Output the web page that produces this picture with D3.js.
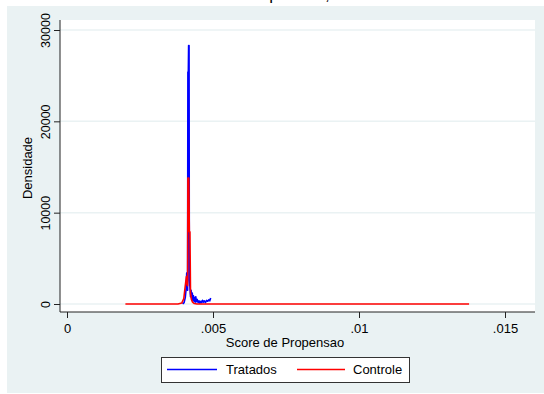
<!DOCTYPE html>
<html>
<head>
<meta charset="utf-8">
<script src="https://cdn.jsdelivr.net/npm/d3@7"></script>
<style>
  html, body { margin: 0; padding: 0; background: #ffffff; }
  svg { display: block; font-family: "Liberation Sans", Arial, sans-serif; }
</style>
</head>
<body>
<svg id="chart" width="544" height="394"></svg>
<script>
// Kernel density of the propensity score, treated group
const tratadosScore = [0.00396, 0.00401, 0.00405, 0.00408, 0.00410, 0.00412, 0.00413, 0.00414, 0.004155, 0.004165, 0.00418, 0.00419,
  0.00421, 0.00423, 0.00425, 0.00427, 0.00429, 0.00431, 0.00433, 0.00435, 0.00437, 0.00439, 0.00441, 0.00443,
  0.00446, 0.00449, 0.00452, 0.00455, 0.00458, 0.00461, 0.00464, 0.00467, 0.00470, 0.00474, 0.00478, 0.00482,
  0.00486, 0.00489, 0.00492];
const tratadosDens = [0, 150, 700, 1700, 3400, 1800, 1500, 25400, 25400, 28300, 28300, 2600,
  1900, 800, 1500, 600, 1200, 400, 900, 300, 700, 200, 800, 250,
  500, 150, 350, 100, 300, 150, 400, 200, 350, 150, 400, 300,
  450, 350, 650];

// Kernel density of the propensity score, control group
const controleScore = [0.00200, 0.00380, 0.00393, 0.00400, 0.00405, 0.00409, 0.00411, 0.00413, 0.00414, 0.00417, 0.00419,
  0.00421, 0.00423, 0.00426, 0.00430, 0.00436, 0.00445, 0.01377];
const controleDens = [0, 0, 100, 600, 2000, 3000, 2200, 2000, 13800, 13800, 7900,
  7900, 1200, 500, 200, 50, 0, 0];

const xTicks = [0, 0.005, 0.01, 0.015];
const xTickLabels = ["0", ".005", ".01", ".015"];
const yTicks = [0, 10000, 20000, 30000];
const yTickLabels = ["0", "10000", "20000", "30000"];
const seriesNames = ["Tratados", "Controle"];
const seriesColors = ["#0000ff", "#ff0000"];

const svg = d3.select("#chart");
const bg = "#eaf2f3";

// outer graph region
svg.append("rect").attr("x", 7).attr("y", 6).attr("width", 537).attr("height", 387).attr("fill", bg);

// title (runs above the top edge)
svg.append("text").attr("x", 272).attr("y", 0).attr("text-anchor", "middle")
  .attr("font-size", 17).attr("fill", "#000")
  .text("Densidade do Score de Propensao, Tratados e Controle");

// plot region
const plot = { left: 60, right: 535, top: 20, bottom: 312 };
svg.append("rect").attr("x", plot.left).attr("y", plot.top)
  .attr("width", plot.right - plot.left).attr("height", plot.bottom - plot.top).attr("fill", "#fff");

const x = d3.scaleLinear().domain([0, 0.015]).range([67, 505]);
const y = d3.scaleLinear().domain([0, 30000]).range([304, 30]);

// gridlines
svg.append("g").selectAll("line").data(yTicks).join("line")
  .attr("x1", plot.left).attr("x2", plot.right)
  .attr("y1", d => y(d)).attr("y2", d => y(d))
  .attr("stroke", bg).attr("stroke-width", 1.5);

// density lines
const line = d3.line().x(d => x(d[0])).y(d => y(d[1]));
const tratados = tratadosScore.map((s, i) => [s, tratadosDens[i]]);
const controle = controleScore.map((s, i) => [s, controleDens[i]]);
svg.append("path").datum(tratados).attr("d", line).attr("fill", "none")
  .attr("stroke", seriesColors[0]).attr("stroke-width", 1.6).attr("stroke-linejoin", "round");
svg.append("path").datum(controle).attr("d", line).attr("fill", "none")
  .attr("stroke", seriesColors[1]).attr("stroke-width", 1.6).attr("stroke-linejoin", "round");

// y axis
const yAxis = d3.axisLeft(y).tickValues(yTicks).tickFormat((d, i) => yTickLabels[i]).tickSize(6).tickPadding(4);
const gy = svg.append("g").attr("transform", `translate(${plot.left},0)`).call(yAxis);
gy.select(".domain").remove();
gy.selectAll(".tick line").attr("stroke", "#222");
gy.selectAll(".tick text").attr("font-size", 12.5).attr("fill", "#000")
  .attr("font-family", "Liberation Sans, Arial, sans-serif")
  .attr("text-anchor", "middle").attr("dy", 0)
  .attr("transform", "translate(-13,0) rotate(-90)").attr("x", 0).attr("y", 0)
  .attr("dominant-baseline", "middle");
svg.append("line").attr("x1", plot.left).attr("x2", plot.left).attr("y1", plot.top).attr("y2", plot.bottom)
  .attr("stroke", "#222").attr("stroke-width", 1);

// x axis
const xAxis = d3.axisBottom(x).tickValues(xTicks).tickFormat((d, i) => xTickLabels[i]).tickSize(6).tickPadding(6);
const gx = svg.append("g").attr("transform", `translate(0,${plot.bottom})`).call(xAxis);
gx.select(".domain").remove();
gx.selectAll(".tick line").attr("stroke", "#222");
gx.selectAll(".tick text").attr("font-size", 13).attr("fill", "#000")
  .attr("font-family", "Liberation Sans, Arial, sans-serif");
svg.append("line").attr("x1", plot.left).attr("x2", plot.right).attr("y1", plot.bottom).attr("y2", plot.bottom)
  .attr("stroke", "#222").attr("stroke-width", 1);

// axis titles
svg.append("text").attr("x", 285).attr("y", 347).attr("text-anchor", "middle")
  .attr("font-size", 13).text("Score de Propensao");
svg.append("text").attr("transform", "translate(32,168) rotate(-90)").attr("text-anchor", "middle")
  .attr("font-size", 13).text("Densidade");

// legend
const lg = svg.append("g");
lg.append("rect").attr("x", 161.5).attr("y", 357.5).attr("width", 248).attr("height", 25)
  .attr("fill", "#fff").attr("stroke", "#333").attr("stroke-width", 1);
const legendItems = [
  { x1: 167, x2: 217, tx: 226 },
  { x1: 297, x2: 345, tx: 353 }
];
legendItems.forEach((it, i) => {
  lg.append("line").attr("x1", it.x1).attr("x2", it.x2).attr("y1", 369.5).attr("y2", 369.5)
    .attr("stroke", seriesColors[i]).attr("stroke-width", 1.6);
  lg.append("text").attr("x", it.tx).attr("y", 374).attr("font-size", 13).text(seriesNames[i]);
});
</script>
</body>
</html>
